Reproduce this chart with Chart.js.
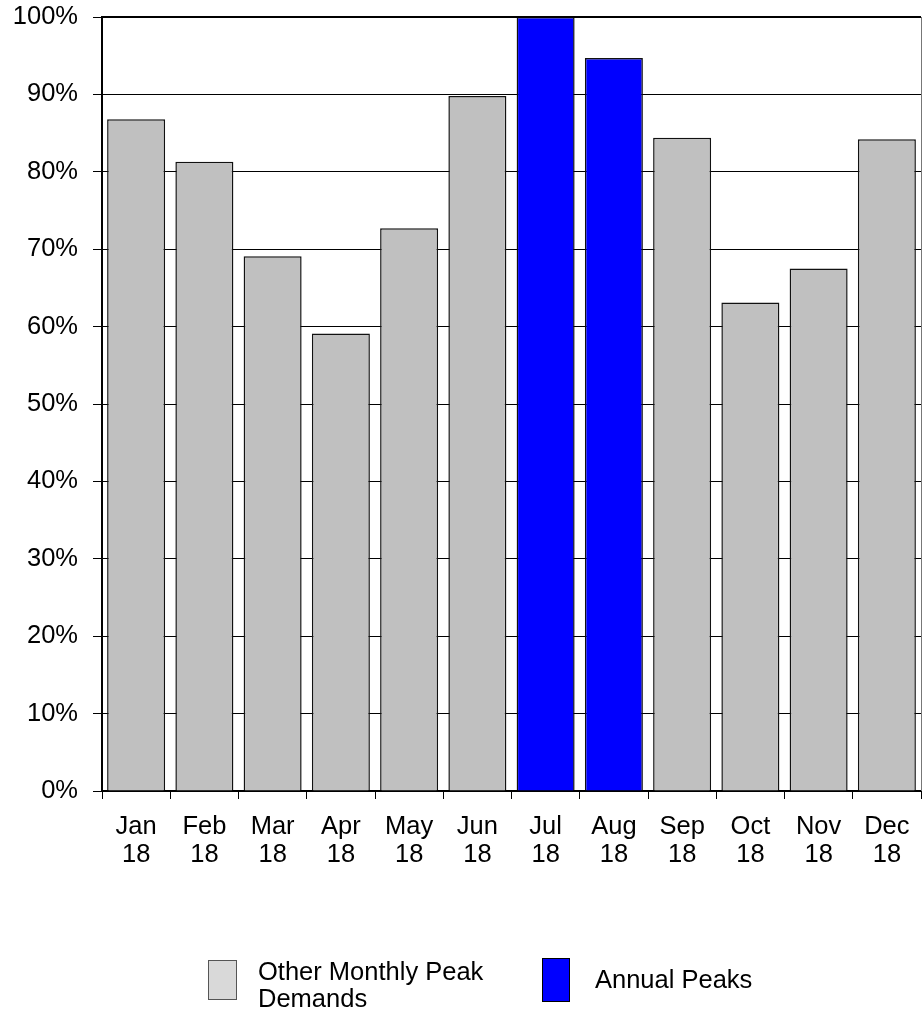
<!DOCTYPE html>
<html lang="en">
<head>
  <meta charset="UTF-8">
  <title>Monthly Peak Demands</title>
  <script src="https://cdn.jsdelivr.net/npm/chart.js"></script>
  <style>
    body { margin: 0; background: #fff; }
  </style>
</head>
<body>
  <canvas id="grafico" width="922" height="1013"></canvas>

  <script>
    // data
    const months = ["Jan", "Feb", "Mar", "Apr", "May", "Jun", "Jul", "Aug", "Sep", "Oct", "Nov", "Dec"];
    const yearLabel = "18";
    const otherPeaks = [86.8, 81.3, 69.1, 59.1, 72.7, 89.8, null, null, 84.4, 63.1, 67.5, 84.2];
    const annualPeaks = [null, null, null, null, null, null, 100, 94.7, null, null, null, null];
    const yTicks = [0, 10, 20, 30, 40, 50, 60, 70, 80, 90, 100];

    const FONT = "'Liberation Sans', Arial, sans-serif";
    const FS = 25.5;

    // legend drawn by hand, tall boxes like the original
    const legendPlugin = {
      id: "manualLegend",
      afterDraw(chart) {
        const ctx = chart.ctx;
        const a = chart.chartArea;
        ctx.save();
        // top border (thick) and right border
        ctx.strokeStyle = "#000";
        ctx.lineWidth = 2;
        ctx.beginPath();
        ctx.moveTo(a.left, a.top);
        ctx.lineTo(a.right, a.top);
        ctx.stroke();
        ctx.strokeStyle = "#777";
        ctx.lineWidth = 1;
        ctx.beginPath();
        ctx.moveTo(a.right + 0.5, a.top);
        ctx.lineTo(a.right + 0.5, a.bottom);
        ctx.stroke();

        ctx.font = FS + "px " + FONT;
        ctx.textBaseline = "middle";
        ctx.textAlign = "left";

        ctx.fillStyle = "#d9d9d9";
        ctx.fillRect(208, 960, 29, 40);
        ctx.strokeStyle = "#555";
        ctx.strokeRect(208.5, 960.5, 28, 39);
        ctx.fillStyle = "#000";
        ctx.fillText("Other Monthly Peak", 258, 973);
        ctx.fillText("Demands", 258, 1000);

        ctx.fillStyle = "#0000ff";
        ctx.fillRect(542, 958, 28, 44);
        ctx.strokeStyle = "#000";
        ctx.strokeRect(542.5, 958.5, 27, 43);
        ctx.fillStyle = "#000";
        ctx.fillText("Annual Peaks", 595, 981);
        ctx.restore();
      }
    };

    const ctx = document.getElementById("grafico").getContext("2d");
    new Chart(ctx, {
      type: "bar",
      data: {
        labels: months.map(m => [m, yearLabel]),
        datasets: [
          {
            label: "Other Monthly Peak Demands",
            data: otherPeaks,
            backgroundColor: "#c0c0c0",
            borderColor: "#111",
            borderWidth: 1.5,
            grouped: false,
            barPercentage: 0.85,
            categoryPercentage: 1.0
          },
          {
            label: "Annual Peaks",
            data: annualPeaks,
            backgroundColor: "#0000ff",
            borderColor: "#111",
            borderWidth: 1.5,
            grouped: false,
            barPercentage: 0.85,
            categoryPercentage: 1.0
          }
        ]
      },
      options: {
        responsive: false,
        animation: false,
        layout: { padding: { top: 17, right: 1, left: 0, bottom: 0 } },
        plugins: {
          legend: { display: false },
          tooltip: { enabled: false }
        },
        scales: {
          x: {
            offset: true,
            grid: {
              offset: true,
              drawOnChartArea: false,
              drawTicks: true,
              tickLength: 8,
              color: "#000"
            },
            border: { color: "#000", width: 2 },
            ticks: {
              color: "#000",
              font: { family: FONT, size: FS, lineHeight: 1.1 },
              maxRotation: 0,
              autoSkip: false,
              padding: 14
            },
            afterFit(axis) {
              axis.height = 222;
              axis.paddingLeft = 0;
              axis.paddingRight = 0;
            }
          },
          y: {
            min: 0,
            max: 100,
            afterBuildTicks(axis) { axis.ticks = yTicks.map(v => ({ value: v })); },
            grid: {
              color: "#000",
              lineWidth: 1,
              tickLength: 9
            },
            border: { color: "#000", width: 2 },
            ticks: {
              color: "#000",
              font: { family: FONT, size: FS },
              padding: 15,
              callback: v => v + "%"
            },
            afterFit(axis) {
              axis.width = 102;
              axis.paddingTop = 0;
              axis.paddingBottom = 0;
            }
          }
        }
      },
      plugins: [legendPlugin]
    });
  </script>
</body>
</html>
